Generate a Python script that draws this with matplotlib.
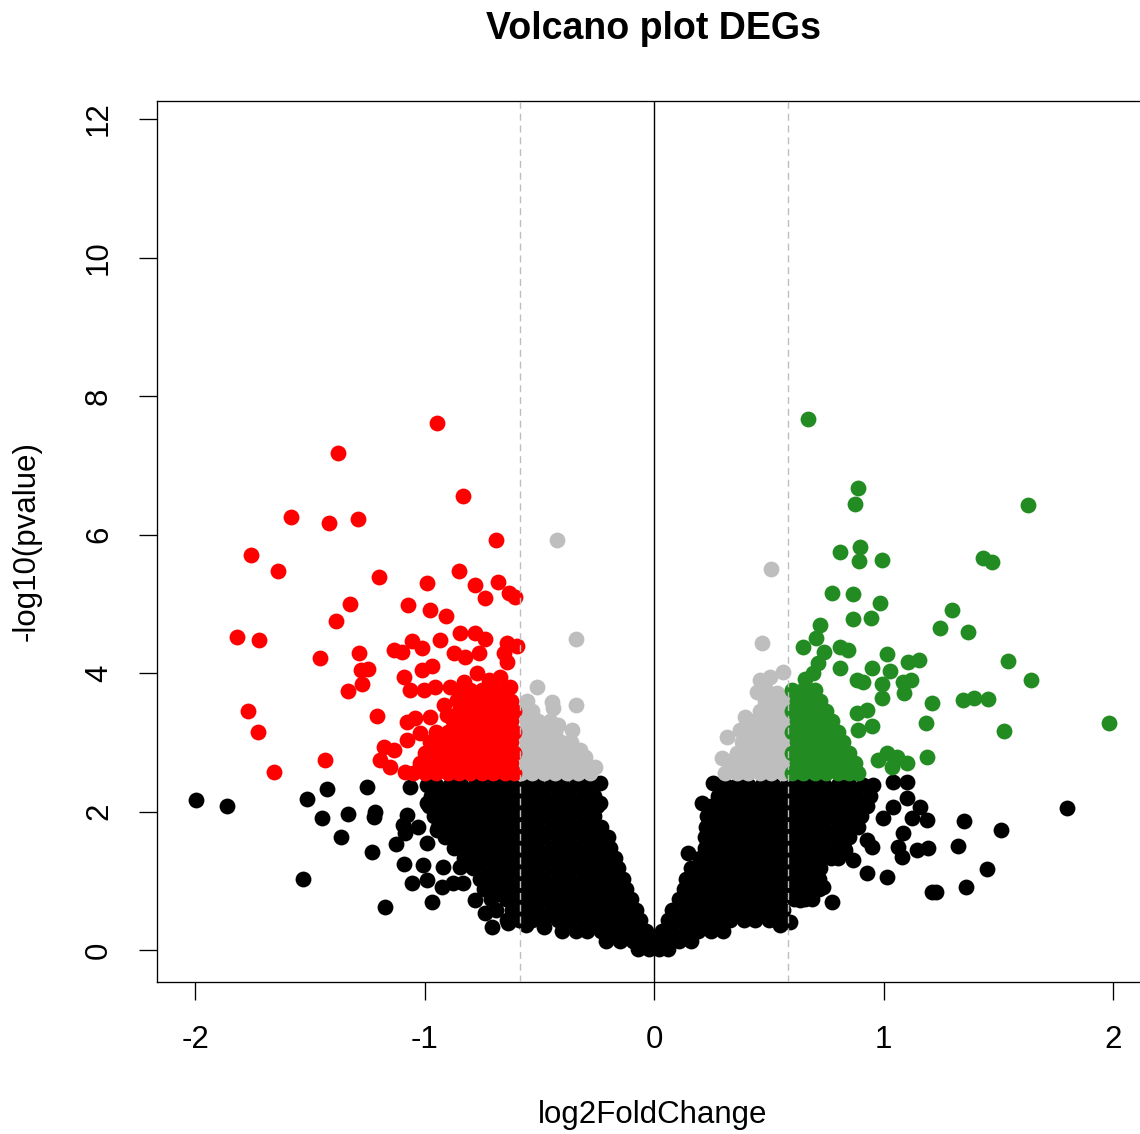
import numpy as np
import matplotlib
matplotlib.use("Agg")
import matplotlib.pyplot as plt

plt.rcParams["font.family"] = ["Liberation Sans", "DejaVu Sans"]
plt.rcParams["axes.unicode_minus"] = False

# values: (log2FoldChange, -log10(pvalue))
FC_CUT = 0.585  # log2(1.5)

# --- down-regulated (red) ---
red_points = [
    (-0.946, 7.61), (-1.377, 7.18), (-0.832, 6.56), (-1.582, 6.25), (-1.416, 6.17),
    (-1.290, 6.22), (-0.688, 5.92), (-1.756, 5.70), (-1.638, 5.47), (-0.850, 5.47),
    (-1.198, 5.39), (-0.989, 5.30), (-0.780, 5.27), (-0.680, 5.31), (-0.736, 5.08),
    (-0.632, 5.16), (-0.606, 5.10), (-1.325, 5.00), (-1.072, 4.98), (-0.976, 4.91),
    (-0.906, 4.82), (-1.386, 4.75), (-1.817, 4.52), (-1.721, 4.48), (-1.455, 4.22),
    (-1.285, 4.29), (-1.277, 4.04), (-1.246, 4.06), (-1.272, 3.84), (-1.333, 3.74),
    (-1.769, 3.45), (-1.725, 3.15), (-1.207, 3.38), (-1.434, 2.74), (-1.656, 2.57),
    (-1.133, 4.33), (-1.098, 4.30), (-1.054, 4.46), (-1.011, 4.36), (-0.932, 4.48),
    (-0.845, 4.58), (-0.780, 4.58), (-0.736, 4.49), (-0.641, 4.43), (-0.597, 4.39),
    (-0.871, 4.29), (-0.824, 4.23), (-0.763, 4.29), (-0.654, 4.29), (-0.641, 4.16),
    (-0.967, 4.10), (-1.011, 4.04), (-1.089, 3.94), (-1.063, 3.75), (-1.002, 3.75),
    (-0.954, 3.80), (-0.889, 3.80), (-0.828, 3.87), (-0.771, 4.00), (-0.671, 3.94),
    (-0.627, 3.80), (-0.915, 3.54), (-0.858, 3.61), (-0.784, 3.65), (-0.715, 3.61),
    (-0.641, 3.61), (-1.076, 3.29), (-1.041, 3.35), (-0.976, 3.36), (-0.902, 3.39),
    (-1.076, 3.03), (-1.020, 3.13), (-1.176, 2.93), (-1.133, 2.89), (-1.194, 2.74),
    (-1.150, 2.64), (-1.085, 2.57), (-0.72, 3.90),
]
red_rows = [
    (2.55, [-1.05, -1.00, -0.95, -0.90, -0.85, -0.80, -0.75, -0.70, -0.65, -0.61]),
    (2.70, [-1.02, -0.975, -0.925, -0.875, -0.825, -0.775, -0.725, -0.675, -0.625]),
    (2.85, [-1.00, -0.95, -0.90, -0.85, -0.80, -0.75, -0.70, -0.65, -0.61]),
    (3.00, [-0.975, -0.925, -0.875, -0.825, -0.775, -0.725, -0.675, -0.625]),
    (3.15, [-0.95, -0.90, -0.85, -0.80, -0.75, -0.70, -0.65, -0.61]),
    (3.30, [-0.875, -0.825, -0.775, -0.725, -0.675, -0.625]),
    (3.45, [-0.85, -0.80, -0.75, -0.70, -0.65, -0.61]),
    (3.60, [-0.825, -0.775, -0.725, -0.675, -0.625]),
    (3.75, [-0.85, -0.80, -0.75, -0.70, -0.65]),
]

# --- significant p but small fold change (gray) ---
gray_points = [
    (-0.423, 5.92), (-0.340, 4.49), (-0.340, 3.54), (-0.510, 3.80), (-0.444, 3.58),
    (-0.440, 3.49), (-0.420, 3.25), (-0.357, 3.18), (-0.322, 2.89), (-0.300, 2.79),
    (-0.257, 2.64),
    (0.510, 5.50), (0.471, 4.43), (0.562, 4.01), (0.505, 3.94), (0.462, 3.90),
    (0.449, 3.73), (0.490, 3.75), (0.536, 3.71), (0.397, 3.36), (0.462, 3.35),
    (0.318, 3.08), (0.375, 3.18), (0.296, 2.77), (0.344, 2.74),
]
gray_rows = [
    (2.55, [-0.58, -0.53, -0.48, -0.43, -0.38, -0.33, -0.28,
            0.31, 0.36, 0.41, 0.46, 0.51, 0.56]),
    (2.70, [-0.555, -0.505, -0.455, -0.405, -0.355, -0.31,
            0.335, 0.385, 0.435, 0.485, 0.535, 0.57]),
    (2.85, [-0.58, -0.53, -0.48, -0.43, -0.38, -0.33,
            0.36, 0.41, 0.46, 0.51, 0.56]),
    (3.00, [-0.555, -0.505, -0.455, -0.405, -0.36,
            0.385, 0.435, 0.485, 0.535, 0.57]),
    (3.15, [-0.58, -0.53, -0.48, -0.43, 0.41, 0.46, 0.51, 0.56]),
    (3.30, [-0.555, -0.505, -0.455, 0.435, 0.485, 0.535, 0.57]),
    (3.45, [-0.58, -0.53, 0.46, 0.51, 0.56]),
    (3.60, [-0.555, 0.485, 0.535, 0.57]),
]

# --- up-regulated (green) ---
green_points = [
    (0.671, 7.67), (0.889, 6.67), (0.876, 6.44), (1.630, 6.43), (0.810, 5.75),
    (0.898, 5.82), (0.893, 5.62), (0.993, 5.63), (1.434, 5.66), (1.473, 5.60),
    (0.776, 5.16), (0.867, 5.14), (0.985, 5.01), (0.867, 4.78), (0.946, 4.79),
    (1.298, 4.91), (1.246, 4.65), (1.368, 4.59), (0.723, 4.69), (0.706, 4.51),
    (0.649, 4.38), (0.741, 4.30), (0.810, 4.38), (0.845, 4.33), (0.715, 4.14),
    (1.015, 4.27), (1.107, 4.16), (1.155, 4.19), (1.542, 4.17), (1.643, 3.90),
    (0.658, 3.91), (0.693, 4.00), (0.810, 4.07), (0.950, 4.07), (1.028, 4.03),
    (0.884, 3.90), (0.911, 3.87), (1.085, 3.87), (1.120, 3.90), (0.993, 3.84),
    (1.089, 3.71), (0.993, 3.64), (1.211, 3.57), (1.346, 3.61), (1.394, 3.64),
    (1.455, 3.62), (0.884, 3.42), (0.928, 3.47), (0.950, 3.23), (0.889, 3.18),
    (1.185, 3.28), (1.525, 3.16), (1.983, 3.28), (1.190, 2.79), (0.976, 2.74),
    (1.015, 2.84), (1.059, 2.79), (1.102, 2.70), (1.037, 2.64),
]
green_rows = [
    (2.55, [0.60, 0.65, 0.70, 0.75, 0.80, 0.85, 0.89]),
    (2.70, [0.625, 0.675, 0.725, 0.775, 0.825, 0.875]),
    (2.85, [0.60, 0.65, 0.70, 0.75, 0.80, 0.85]),
    (3.00, [0.625, 0.675, 0.725, 0.775, 0.825]),
    (3.15, [0.60, 0.65, 0.70, 0.75, 0.80]),
    (3.30, [0.625, 0.675, 0.725, 0.775]),
    (3.45, [0.60, 0.65, 0.70, 0.75]),
    (3.60, [0.625, 0.675, 0.725]),
    (3.75, [0.60, 0.65, 0.70]),
]

# --- not significant (black) ---
black_points = [
    (-1.996, 2.17), (-1.861, 2.08), (-1.512, 2.18), (-1.425, 2.32), (-1.251, 2.35),
    (-1.447, 1.91), (-1.333, 1.96), (-1.216, 1.99), (-1.220, 1.92), (-1.364, 1.63),
    (-1.229, 1.42), (-1.529, 1.03), (-1.172, 0.62), (-1.076, 1.95), (-1.094, 1.81),
    (-1.085, 1.69), (-1.028, 1.78), (-1.124, 1.53), (-1.089, 1.24), (-1.054, 0.97),
    (-0.967, 0.69), (-0.989, 1.55), (-1.007, 1.23), (-0.989, 1.01), (-0.919, 1.20),
    (-0.845, 1.20), (-0.832, 0.97), (-0.924, 0.91), (-0.876, 0.97), (-1.063, 2.35),
    (-0.989, 2.12), (-0.963, 2.31), (-0.946, 1.73), (-0.932, 1.88), (-0.780, 0.72),
    (-0.736, 0.53), (-0.706, 0.33), (-0.636, 0.39), (-0.56, 0.36), (-0.48, 0.33),
    (-0.235, 2.41), (-0.235, 2.12),
    (0.257, 2.41), (0.210, 2.12), (0.148, 1.40),
    (1.800, 2.05), (1.351, 1.86), (1.512, 1.73), (1.325, 1.50), (1.451, 1.17),
    (1.359, 0.91), (1.229, 0.84), (1.211, 0.84), (1.041, 2.43), (1.102, 2.43),
    (1.102, 2.19), (1.041, 2.07), (1.159, 2.07), (1.124, 1.91), (1.190, 1.88),
    (0.998, 1.91), (0.928, 1.59), (0.950, 1.49), (1.085, 1.69), (1.063, 1.49),
    (1.081, 1.34), (1.146, 1.44), (1.194, 1.47), (0.832, 1.44), (0.867, 1.30),
    (0.928, 1.11), (1.015, 1.05), (0.736, 0.91), (0.636, 0.72), (0.680, 0.77),
    (0.776, 0.69), (0.593, 0.40), (0.549, 0.36),
]
black_rows = [
    (2.38, [-0.99, -0.95, -0.89, -0.84, -0.78, -0.73, -0.67, -0.62, -0.56, -0.51,
            -0.45, -0.40, -0.34, -0.29,
            0.31, 0.36, 0.41, 0.47, 0.52, 0.58, 0.63, 0.69, 0.74, 0.80, 0.85, 0.91, 0.955]),
    (2.23, [-0.97, -0.92, -0.86, -0.81, -0.75, -0.70, -0.64, -0.59, -0.53, -0.48,
            -0.42, -0.37, -0.31, -0.26,
            0.28, 0.33, 0.39, 0.44, 0.50, 0.55, 0.61, 0.66, 0.72, 0.77, 0.83, 0.88, 0.94]),
    (2.08, [-0.98, -0.93, -0.89, -0.84, -0.78, -0.73, -0.67, -0.62, -0.56, -0.51,
            -0.45, -0.40, -0.34, -0.29, -0.25,
            0.25, 0.30, 0.36, 0.41, 0.47, 0.52, 0.58, 0.63, 0.69, 0.74, 0.80, 0.85, 0.91, 0.93]),
    (1.93, [-0.96, -0.92, -0.86, -0.81, -0.75, -0.70, -0.64, -0.59, -0.53, -0.48,
            -0.42, -0.37, -0.31, -0.26,
            0.23, 0.28, 0.33, 0.39, 0.44, 0.50, 0.55, 0.61, 0.66, 0.72, 0.77, 0.83, 0.88, 0.90]),
    (1.78, [-0.94, -0.89, -0.84, -0.78, -0.73, -0.67, -0.62, -0.56, -0.51, -0.45,
            -0.40, -0.34, -0.29, -0.23,
            0.225, 0.25, 0.30, 0.36, 0.41, 0.47, 0.52, 0.58, 0.63, 0.69, 0.74, 0.80, 0.85, 0.89]),
    (1.63, [-0.91, -0.86, -0.81, -0.75, -0.70, -0.64, -0.59, -0.53, -0.48, -0.42,
            -0.37, -0.31, -0.26, -0.20,
            0.22, 0.28, 0.33, 0.39, 0.44, 0.50, 0.55, 0.61, 0.66, 0.72, 0.77, 0.83, 0.85]),
    (1.48, [-0.87, -0.84, -0.78, -0.73, -0.67, -0.62, -0.56, -0.51, -0.45, -0.40,
            -0.34, -0.29, -0.23, -0.19,
            0.22, 0.25, 0.30, 0.36, 0.41, 0.47, 0.52, 0.58, 0.63, 0.69, 0.74, 0.80, 0.83]),
    (1.33, [-0.83, -0.81, -0.75, -0.70, -0.64, -0.59, -0.53, -0.48, -0.42, -0.37,
            -0.31, -0.26, -0.20, -0.17,
            0.20, 0.22, 0.28, 0.33, 0.39, 0.44, 0.50, 0.55, 0.61, 0.66, 0.72, 0.77, 0.80]),
    (1.18, [-0.79, -0.73, -0.67, -0.62, -0.56, -0.51, -0.45, -0.40, -0.34, -0.29,
            -0.23, -0.18, -0.155,
            0.16, 0.19, 0.25, 0.30, 0.36, 0.41, 0.47, 0.52, 0.58, 0.63, 0.69, 0.725]),
    (1.03, [-0.76, -0.70, -0.64, -0.59, -0.53, -0.48, -0.42, -0.37, -0.31, -0.26,
            -0.20, -0.15, -0.135,
            0.14, 0.17, 0.22, 0.28, 0.33, 0.39, 0.44, 0.50, 0.55, 0.61, 0.66, 0.72]),
    (0.88, [-0.74, -0.68, -0.62, -0.56, -0.51, -0.45, -0.40, -0.34, -0.29, -0.23,
            -0.18, -0.12,
            0.13, 0.19, 0.25, 0.30, 0.36, 0.41, 0.47, 0.52, 0.58, 0.63, 0.69, 0.72]),
    (0.73, [-0.71, -0.645, -0.59, -0.53, -0.48, -0.42, -0.37, -0.31, -0.26, -0.20,
            -0.15, -0.10,
            0.11, 0.17, 0.22, 0.28, 0.33, 0.39, 0.44, 0.50, 0.55, 0.61, 0.66, 0.69]),
    (0.58, [-0.69, -0.62, -0.56, -0.51, -0.45, -0.40, -0.34, -0.29, -0.23, -0.18,
            -0.12, -0.08,
            0.08, 0.14, 0.19, 0.25, 0.30, 0.36, 0.41, 0.47, 0.52, 0.56]),
    (0.43, [-0.64, -0.59, -0.53, -0.48, -0.42, -0.37, -0.31, -0.26, -0.20, -0.15,
            -0.09, -0.06,
            0.06, 0.11, 0.17, 0.22, 0.28, 0.33, 0.39, 0.44, 0.50, 0.53]),
    (0.28, [-0.40, -0.34, -0.29, -0.23, -0.18, -0.12, -0.07, -0.035,
            0.035, 0.08, 0.14, 0.19, 0.25, 0.30]),
    (0.13, [-0.21, -0.15, -0.09, -0.04, -0.01, 0.025, 0.06, 0.11, 0.16]),
    (0.02, [-0.07, -0.02, 0.02, 0.06]),
]


def collect(points, rows):
    xs = [p[0] for p in points]
    ys = [p[1] for p in points]
    for y, row in rows:
        xs += row
        ys += [y] * len(row)
    return np.array(xs), np.array(ys)


groups = [
    (black_points, black_rows, "black"),
    (gray_points, gray_rows, "#BEBEBE"),
    (red_points, red_rows, "#FF0000"),
    (green_points, green_rows, "#228B22"),
]

fig = plt.figure(figsize=(11.4, 11.34), dpi=100)
ax = fig.add_axes([157 / 1140, 1 - 982 / 1134, (1149 - 157) / 1140, (982 - 101) / 1134])

for pts, rows, col in groups:
    x, y = collect(pts, rows)
    ax.scatter(x, y, s=130, c=col, linewidths=0, zorder=2)

ax.axvline(0, color="black", lw=1.0, zorder=3)
for v in (-FC_CUT, FC_CUT):
    ax.axvline(v, color="#BEBEBE", lw=1.0, ls=(0, (5, 3.5)), zorder=3)

ax.set_xlim(-2.166, 2.157)
ax.set_ylim(-0.462, 12.26)
ax.set_xticks([-2, -1, 0, 1, 2])
ax.set_yticks([0, 2, 4, 6, 8, 10, 12])
ax.tick_params(direction="out", length=13, width=0.95, labelsize=22.5, pad=18,
               colors="black")
plt.setp(ax.get_yticklabels(), rotation=90, va="center")
for sp in ax.spines.values():
    sp.set_linewidth(0.95)

fig.text(653 / 1140, 1 - 38.6 / 1134, "Volcano plot DEGs", ha="center",
         va="baseline", fontsize=27, fontweight="bold")
fig.text(653 / 1140, 1 - 1115 / 1134, "log2FoldChange", ha="center", va="center",
         fontsize=22.5)
fig.text(27 / 1140, 1 - 541.5 / 1134, "-log10(pvalue)", ha="center", va="center",
         rotation=90, fontsize=22.5)

fig.savefig("out.png", dpi=100)
